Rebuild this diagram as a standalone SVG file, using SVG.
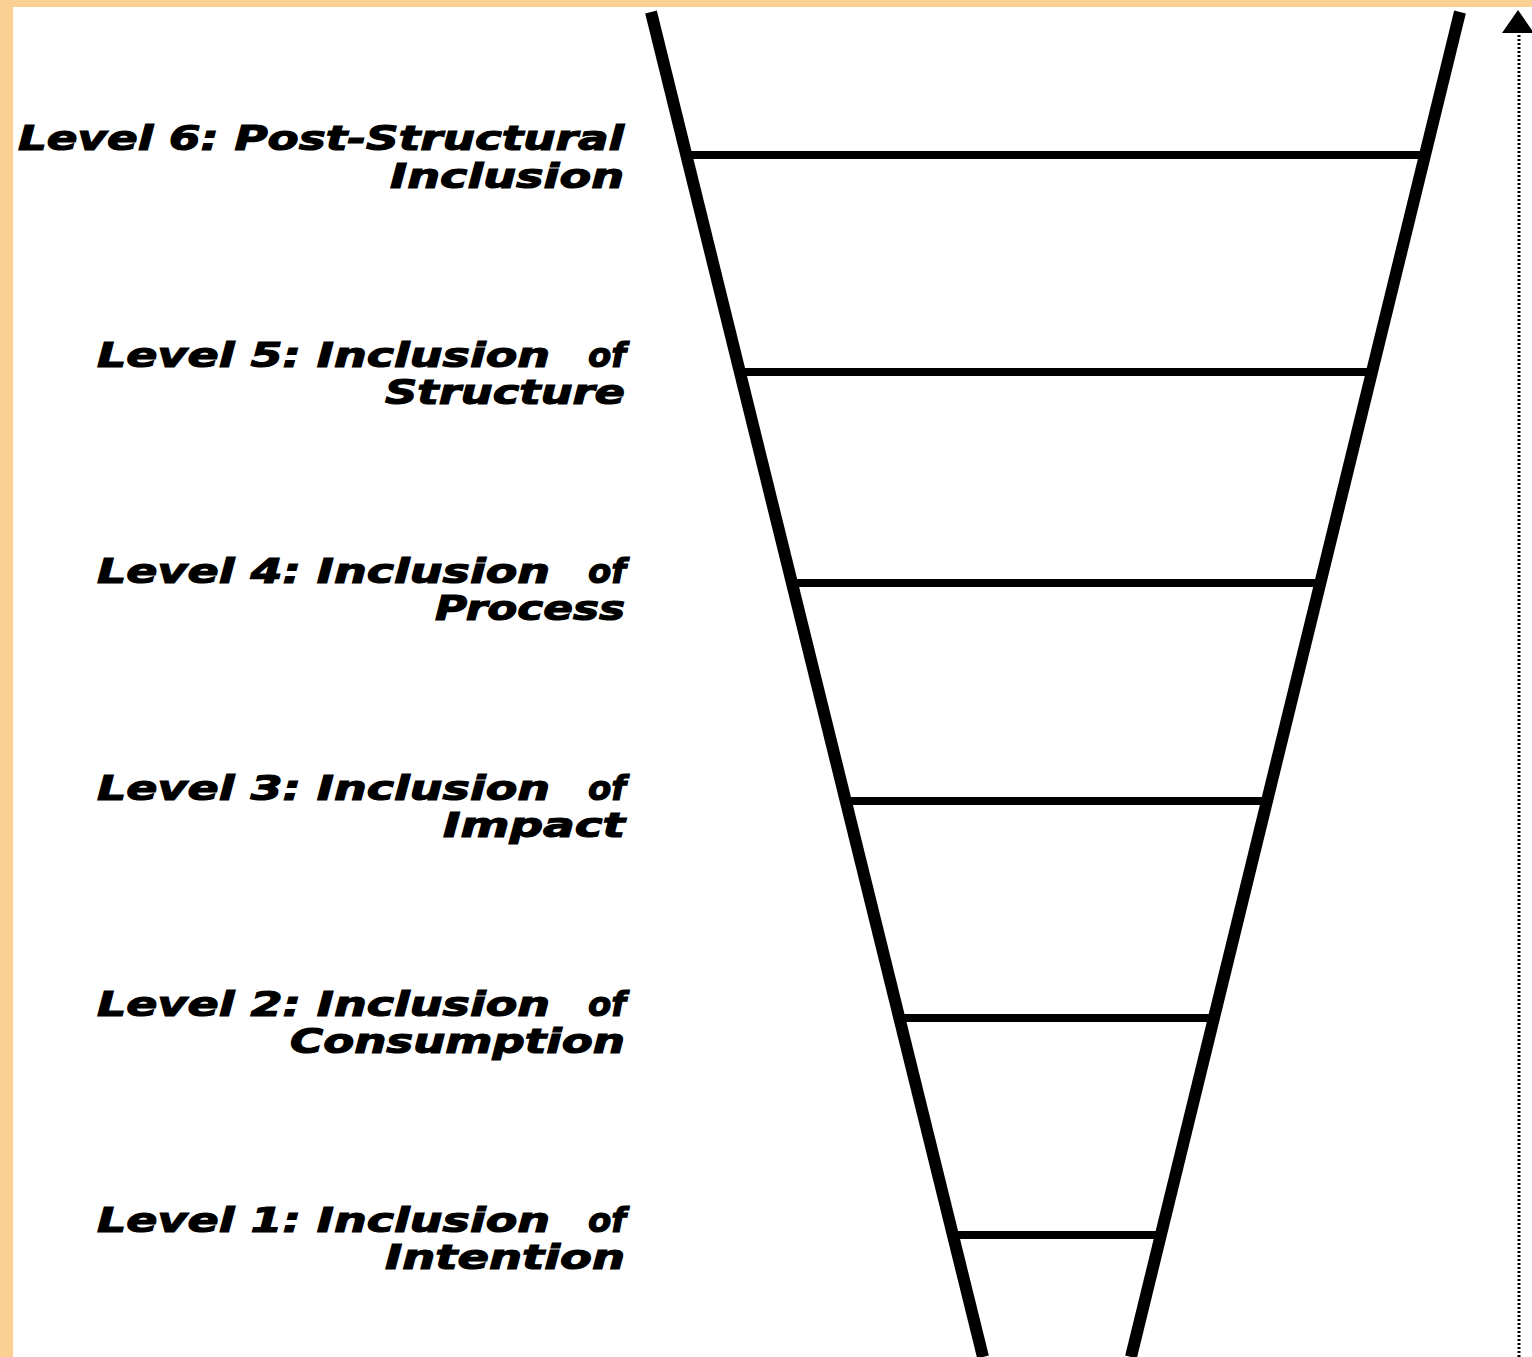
<svg xmlns="http://www.w3.org/2000/svg" width="1532" height="1357" viewBox="0 0 1532 1357">
<style>
.lbl{font-family:"DejaVu Sans",Verdana,sans-serif;font-weight:bold;font-style:italic;font-size:34px;fill:#000;stroke:#000;stroke-width:1.2}
.side{stroke:#000;stroke-width:12;fill:none}
.rung{stroke:#000;stroke-width:8;fill:none}
</style>
<rect width="1532" height="1357" fill="#fff"/>
<rect x="0" y="0" width="1532" height="7" fill="#FBD193"/>
<rect x="0" y="0" width="13" height="1357" fill="#FBD193"/>
<g id="connectors">
<line class="side" x1="651" y1="12" x2="983" y2="1357"/>
<line class="side" x1="1460" y1="12" x2="1131" y2="1357"/>
<line class="rung" x1="688" y1="155" x2="1424" y2="155"/>
<line class="rung" x1="741" y1="372" x2="1370" y2="372"/>
<line class="rung" x1="793" y1="583" x2="1318" y2="583"/>
<line class="rung" x1="846" y1="801" x2="1265" y2="801"/>
<line class="rung" x1="900" y1="1018" x2="1212" y2="1018"/>
<line class="rung" x1="953" y1="1235" x2="1159" y2="1235"/>
<line x1="1519" y1="1357" x2="1519" y2="32" stroke="#000" stroke-width="3" stroke-dasharray="2,2"/>
<path d="M1502,33 L1518,10 L1534,33 Z" fill="#000"/>
</g>
<g id="level6"><text class="lbl" x="18" y="150" textLength="606" lengthAdjust="spacingAndGlyphs">Level 6: Post-Structural</text><text class="lbl" x="390" y="188" textLength="234" lengthAdjust="spacingAndGlyphs">Inclusion</text></g>
<g id="level5"><text class="lbl" x="97" y="367" textLength="453" lengthAdjust="spacingAndGlyphs">Level 5: Inclusion</text><text class="lbl" x="588" y="367" textLength="38" lengthAdjust="spacingAndGlyphs">of</text><text class="lbl" x="385" y="404" textLength="240" lengthAdjust="spacingAndGlyphs">Structure</text></g>
<g id="level4"><text class="lbl" x="97" y="583" textLength="453" lengthAdjust="spacingAndGlyphs">Level 4: Inclusion</text><text class="lbl" x="588" y="583" textLength="38" lengthAdjust="spacingAndGlyphs">of</text><text class="lbl" x="435" y="620" textLength="190" lengthAdjust="spacingAndGlyphs">Process</text></g>
<g id="level3"><text class="lbl" x="97" y="800" textLength="453" lengthAdjust="spacingAndGlyphs">Level 3: Inclusion</text><text class="lbl" x="588" y="800" textLength="38" lengthAdjust="spacingAndGlyphs">of</text><text class="lbl" x="443" y="837" textLength="182" lengthAdjust="spacingAndGlyphs">Impact</text></g>
<g id="level2"><text class="lbl" x="97" y="1016" textLength="453" lengthAdjust="spacingAndGlyphs">Level 2: Inclusion</text><text class="lbl" x="588" y="1016" textLength="38" lengthAdjust="spacingAndGlyphs">of</text><text class="lbl" x="290" y="1053" textLength="335" lengthAdjust="spacingAndGlyphs">Consumption</text></g>
<g id="level1"><text class="lbl" x="97" y="1232" textLength="453" lengthAdjust="spacingAndGlyphs">Level 1: Inclusion</text><text class="lbl" x="588" y="1232" textLength="38" lengthAdjust="spacingAndGlyphs">of</text><text class="lbl" x="385" y="1269" textLength="240" lengthAdjust="spacingAndGlyphs">Intention</text></g>
</svg>
